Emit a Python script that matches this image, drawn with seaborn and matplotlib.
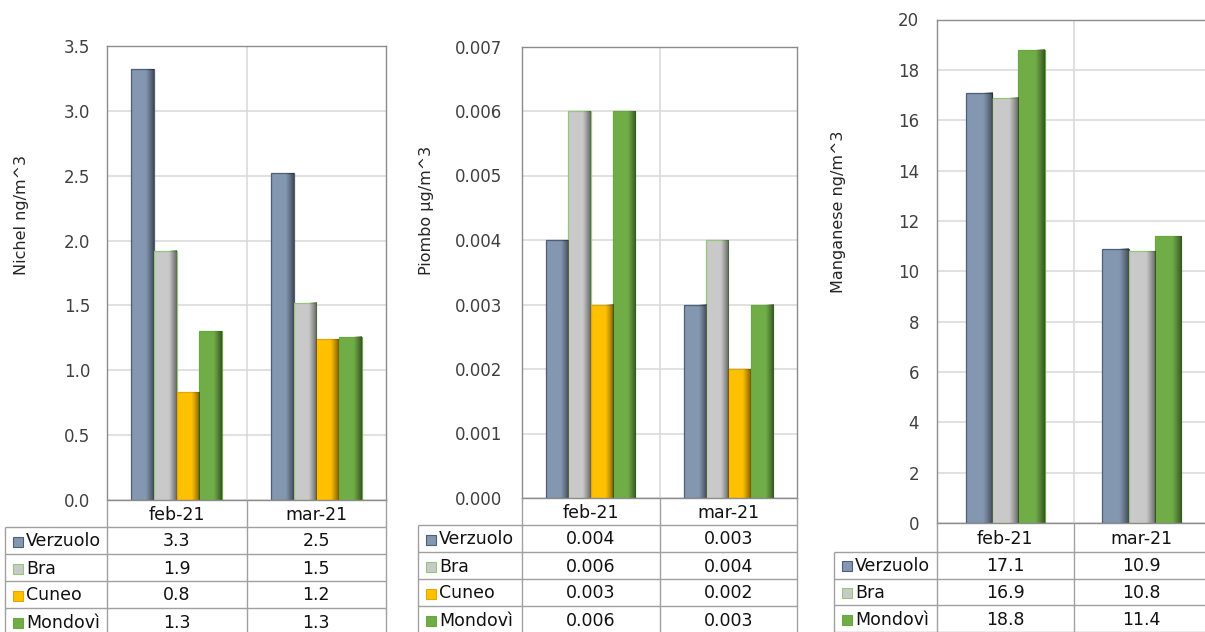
import numpy as np
import pandas as pd
import matplotlib
matplotlib.use("Agg")
import matplotlib.pyplot as plt
from matplotlib.patches import Rectangle
from matplotlib.lines import Line2D
from matplotlib.ticker import FormatStrFormatter
import seaborn as sns

# ---- data -------------------------------------------------------------
months = ["feb-21", "mar-21"]
stations = ["Verzuolo", "Bra", "Cuneo", "Mondovì"]

nichel_feb = [3.32, 1.92, 0.83, 1.30]
nichel_mar = [2.52, 1.52, 1.24, 1.26]

piombo_feb = [0.004, 0.006, 0.003, 0.006]
piombo_mar = [0.003, 0.004, 0.002, 0.003]

manganese_stations = ["Verzuolo", "Bra", "Mondovì"]
manganese_feb = [17.1, 16.9, 18.8]
manganese_mar = [10.9, 10.8, 11.4]

# ---- style ------------------------------------------------------------
sns.set_theme(style="white")
plt.rcParams["font.family"] = ["DejaVu Sans"]

FILL = {"Verzuolo": "#8497B0", "Bra": "#C9C9C9", "Cuneo": "#FFC000", "Mondovì": "#70AD47"}
EDGE = {"Verzuolo": "#4D5E78", "Bra": "#95C67B", "Cuneo": "#E0A800", "Mondovì": "#6AA642"}
GRID = "#D9D9D9"
FRAME = "#8C8C8C"
TABLE_LINE = "#A0A0A0"

W, H = 1205, 632
fig = plt.figure(figsize=(W / 100, H / 100), dpi=100)
fig.patch.set_facecolor("white")

# each panel: plot box in pixels (left, right, top, bottom) and table layout
panels = [
    dict(ylabel="Nichel ng/m^3", st=stations, feb=nichel_feb, mar=nichel_mar,
         ymax=3.5, step=0.5, tick_fmt="%.1f", val_fmt="{:.1f}",
         box=(107, 386, 46, 500), header_bottom=527, row_h=27, label_left=5,
         ylabel_xy=(22, 215), pad=12.2, width=0.65),
    dict(ylabel="Piombo µg/m^3", st=stations, feb=piombo_feb, mar=piombo_mar,
         ymax=0.007, step=0.001, tick_fmt="%.3f", val_fmt="{:.3f}",
         box=(522, 797, 46.5, 498), header_bottom=525, row_h=27, label_left=418,
         ylabel_xy=(426, 210), pad=14.4, width=0.65),
    dict(ylabel="Manganese ng/m^3", st=manganese_stations, feb=manganese_feb, mar=manganese_mar,
         ymax=20, step=2, tick_fmt="%d", val_fmt="{:.1f}",
         box=(937, 1210, 19.5, 523), header_bottom=552, row_h=26.7, label_left=834,
         ylabel_xy=(839, 212), pad=13.0, width=0.58),
]


def bevel(ax, bar):
    """Darken the right side of a bar to give it a rounded, shaded look."""
    x0, w, h = bar.get_x(), bar.get_width(), bar.get_height()
    t = np.linspace(0, 1, 80)
    alpha = np.clip((t - 0.64) / 0.36, 0, 1) ** 1.1 * 0.5
    img = np.zeros((1, t.size, 4))
    img[..., 3] = alpha
    ax.imshow(img, extent=(x0, x0 + w, 0, h), aspect="auto",
              interpolation="bilinear", zorder=bar.get_zorder() + 0.1)


for p in panels:
    L, R, T, B = p["box"]
    ax = fig.add_axes([L / W, 1 - B / H, (R - L) / W, (B - T) / H])
    st = p["st"]
    df = pd.DataFrame({
        "month": np.repeat(months, len(st)),
        "station": st * 2,
        "value": list(p["feb"]) + list(p["mar"]),
    })
    sns.barplot(data=df, x="month", y="value", hue="station", order=months,
                hue_order=st, palette=[FILL[s] for s in st], width=p["width"],
                saturation=1, errorbar=None, legend=False, ax=ax, zorder=2)
    for cont, s in zip(ax.containers, st):
        for bar in cont:
            bar.set_edgecolor(EDGE[s])
            bar.set_linewidth(0.9)
            bevel(ax, bar)

    ax.set_xlim(-0.5, 1.5)
    ax.set_ylim(0, p["ymax"])
    ax.set_yticks(np.arange(0, p["ymax"] + p["step"] / 2, p["step"]))
    ax.yaxis.set_major_formatter(FormatStrFormatter(p["tick_fmt"]))
    ax.set_xticks([])
    ax.set_xlabel("")
    ax.set_axisbelow(True)
    ax.yaxis.grid(True, color=GRID, lw=1.1)
    ax.axvline(0.5, color=GRID, lw=1.1, zorder=0.5)
    for sp in ax.spines.values():
        sp.set_visible(True)
        sp.set_color(FRAME)
        sp.set_linewidth(1.0)
    ax.tick_params(axis="y", length=0, pad=p["pad"], labelsize=12, labelcolor="#404040")

    ax.set_ylabel(p["ylabel"], fontsize=11.5, color="#262626")
    cx, cy = p["ylabel_xy"]
    ax.yaxis.set_label_coords((cx - L) / (R - L), (B - cy) / (B - T))
    ax.yaxis.label.set_verticalalignment("center")

# ---- data tables under each chart ------------------------------------
tab = fig.add_axes([0, 0, 1, 1])
tab.set_xlim(0, W)
tab.set_ylim(H, 0)
tab.axis("off")

for p in panels:
    L, R, T, B = p["box"]
    mid = (L + R) / 2
    hb, rh, ll = p["header_bottom"], p["row_h"], p["label_left"]
    st = p["st"]
    n = len(st)
    y_end = hb + n * rh
    line_kw = dict(color=TABLE_LINE, lw=1.0, solid_capstyle="butt")

    for x in (L, mid, R):
        tab.add_line(Line2D([x, x], [B, y_end], **line_kw))
    tab.add_line(Line2D([ll, ll], [hb, y_end], **line_kw))
    for k in range(n + 1):
        y = hb + k * rh
        tab.add_line(Line2D([ll, R], [y, y], **line_kw))

    col_centers = [L + (i + 0.5) * (R - L) / 2 for i in range(len(months))]
    for xc, m in zip(col_centers, months):
        tab.text(xc, (B + hb) / 2 + 1, m, ha="center", va="center",
                 fontsize=12.5, color="#111111")

    for k, s in enumerate(st):
        yc = hb + (k + 0.5) * rh + 1
        tab.add_patch(Rectangle((ll + 8, yc - 5), 10, 10, facecolor=FILL[s],
                                edgecolor=EDGE[s], lw=0.8))
        tab.text(ll + 21, yc, s, ha="left", va="center", fontsize=12.5, color="#111111")
        for xc, v in zip(col_centers, (p["feb"][k], p["mar"][k])):
            tab.text(xc, yc, p["val_fmt"].format(v), ha="center", va="center",
                     fontsize=12.5, color="#111111")

fig.savefig("out.png", dpi=100, facecolor="white")
